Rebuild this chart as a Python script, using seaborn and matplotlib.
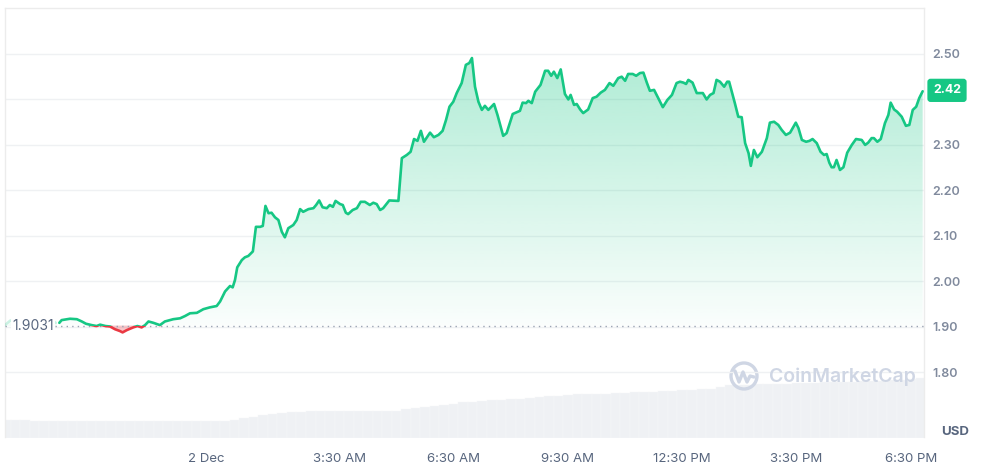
import numpy as np
import pandas as pd
import matplotlib
matplotlib.use('Agg')
import matplotlib.pyplot as plt
import seaborn as sns
from matplotlib.patches import Rectangle, Circle
from matplotlib.path import Path
from matplotlib.lines import Line2D
from matplotlib.transforms import blended_transform_factory, IdentityTransform
from matplotlib.colors import to_rgb

# hours relative to 2 Dec 00:00
hours = [-3.85, -3.79, -3.57, -3.39, -3.26, -3.15, -3.00, -2.87, -2.78, -2.64,
         -2.52, -2.39, -2.26, -2.19, -2.08, -1.91, -1.80, -1.69, -1.60, -1.51,
         -1.38, -1.21, -1.08, -0.86, -0.68, -0.55, -0.42, -0.24, -0.07, 0.10,
         0.28, 0.37,
         0.50, 0.63, 0.70, 0.76, 0.82, 0.94, 1.02, 1.11, 1.23, 1.31,
         1.42, 1.49, 1.56, 1.64, 1.72, 1.81, 1.90, 1.99, 2.07, 2.16,
         2.29, 2.38, 2.47, 2.55, 2.69, 2.82, 2.89, 2.97, 3.06, 3.17,
         3.25, 3.33, 3.40, 3.52, 3.59, 3.67, 3.73, 3.85, 3.96, 4.06,
         4.17, 4.30,
         4.39, 4.48, 4.57, 4.65, 4.81, 5.05, 5.14, 5.27, 5.37, 5.46,
         5.55, 5.64, 5.72, 5.88, 5.98, 6.10, 6.21, 6.30, 6.39, 6.49,
         6.58, 6.71, 6.82, 6.91, 6.98, 7.06, 7.15, 7.24, 7.32, 7.41,
         7.56, 7.65, 7.80, 7.89, 8.05, 8.16, 8.24,
         8.31, 8.40, 8.46, 8.55, 8.64, 8.78, 8.90, 8.98, 9.06, 9.13,
         9.22, 9.31, 9.42, 9.51, 9.57, 9.66, 9.73, 9.82, 9.90, 10.03,
         10.15, 10.25, 10.36, 10.47, 10.59, 10.69, 10.82, 10.91, 11.00, 11.08,
         11.20, 11.29, 11.39, 11.48, 11.57, 11.65, 11.76, 11.87, 11.99, 12.11,
         12.23, 12.35, 12.44,
         12.53, 12.60, 12.66, 12.77, 12.88, 13.04, 13.14, 13.23, 13.32, 13.40,
         13.49, 13.60, 13.68, 13.73, 13.88, 13.97, 14.06, 14.15, 14.24, 14.30,
         14.38, 14.47, 14.59, 14.72, 14.80, 14.91, 15.02, 15.11, 15.22, 15.33,
         15.48, 15.55, 15.64, 15.75, 15.84, 15.92, 16.03, 16.13, 16.22, 16.29,
         16.36,
         16.42, 16.48, 16.55, 16.64, 16.73, 16.83, 16.95, 17.06, 17.21, 17.30,
         17.38, 17.47, 17.53, 17.62, 17.71, 17.82, 17.91, 17.97, 18.06, 18.14,
         18.26, 18.37, 18.46, 18.55, 18.64, 18.72, 18.81]

price = [1.909, 1.915, 1.918, 1.917, 1.912, 1.907, 1.904, 1.902, 1.905, 1.902,
         1.901, 1.895, 1.891, 1.888, 1.893, 1.899, 1.902, 1.899, 1.904, 1.912,
         1.909, 1.904, 1.912, 1.917, 1.919, 1.924, 1.930, 1.931, 1.939, 1.943,
         1.946, 1.956,
         1.978, 1.990, 1.987, 2.003, 2.031, 2.047, 2.053, 2.056, 2.066, 2.120,
         2.120, 2.122, 2.166, 2.150, 2.151, 2.141, 2.135, 2.109, 2.097, 2.117,
         2.124, 2.135, 2.159, 2.153, 2.159, 2.161, 2.168, 2.178, 2.163, 2.161,
         2.168, 2.164, 2.177, 2.170, 2.168, 2.151, 2.148, 2.157, 2.161, 2.175,
         2.175, 2.168,
         2.173, 2.170, 2.157, 2.161, 2.178, 2.177, 2.271, 2.278, 2.285, 2.313,
         2.309, 2.331, 2.307, 2.327, 2.317, 2.322, 2.331, 2.355, 2.384, 2.395,
         2.414, 2.436, 2.476, 2.480, 2.491, 2.428, 2.395, 2.377, 2.386, 2.377,
         2.390, 2.366, 2.320, 2.326, 2.368, 2.372, 2.375,
         2.393, 2.392, 2.397, 2.392, 2.417, 2.432, 2.463, 2.463, 2.452, 2.461,
         2.447, 2.466, 2.412, 2.400, 2.410, 2.388, 2.390, 2.378, 2.370, 2.378,
         2.403, 2.406, 2.415, 2.421, 2.436, 2.430, 2.447, 2.450, 2.441, 2.456,
         2.456, 2.452, 2.458, 2.459, 2.437, 2.419, 2.421, 2.403, 2.383, 2.399,
         2.410, 2.436, 2.439,
         2.437, 2.434, 2.443, 2.437, 2.414, 2.414, 2.400, 2.410, 2.414, 2.443,
         2.439, 2.428, 2.439, 2.439, 2.392, 2.362, 2.361, 2.304, 2.282, 2.254,
         2.289, 2.273, 2.285, 2.315, 2.349, 2.351, 2.344, 2.333, 2.322, 2.327,
         2.349, 2.337, 2.311, 2.307, 2.309, 2.313, 2.304, 2.285, 2.278, 2.280,
         2.261,
         2.251, 2.251, 2.267, 2.245, 2.251, 2.283, 2.300, 2.313, 2.311, 2.300,
         2.305, 2.315, 2.315, 2.307, 2.313, 2.348, 2.366, 2.393, 2.378, 2.373,
         2.362, 2.342, 2.344, 2.377, 2.384, 2.403, 2.418]

# faded stretch before the 24h window
prev_hours = [-5.28, -5.14, -4.88, -4.75, -4.54, -4.23, -4.02, -3.94]
prev_price = [1.904, 1.914, 1.917, 1.914, 1.912, 1.912, 1.914, 1.909]

base_price = 1.9031
last_price = 2.42

# volume, 15 min steps from -5.25 h
vol_start = -5.25
volume = [180, 180, 180,
          165, 165, 165, 165, 165, 165, 165, 165, 165, 165, 165,
          165, 165, 165, 165, 165, 165, 165, 165, 165, 165,
          178, 195, 210, 228, 238, 248, 255, 260, 265,
          265, 265, 265, 265, 265, 265, 265, 265, 265,
          285, 298, 308, 315, 325, 338, 352, 360, 368, 375,
          378, 384, 388, 398, 405, 412, 418, 425, 431, 434,
          437, 440, 444, 448, 452, 457, 460, 464, 468, 472,
          476, 482, 490, 505, 522, 527, 530, 533, 535, 537,
          540, 543, 546, 548, 551, 554, 557, 559, 562, 565,
          568, 574, 580, 586, 592]

y_ticks = [1.80, 1.90, 2.00, 2.10, 2.20, 2.30, 2.40, 2.50]
y_labels = ['1.80', '1.90', '2.00', '2.10', '2.20', '2.30', '', '2.50']
x_ticks = [0, 3.5, 6.5, 9.5, 12.5, 15.5, 18.5]
x_labels = ['2 Dec', '3:30 AM', '6:30 AM', '9:30 AM', '12:30 PM', '3:30 PM', '6:30 PM']

GREEN = '#16c784'
RED = '#ea3943'
GREY_TXT = '#58667e'
GRID = '#eff1f3'

sns.set_style("white")
plt.rcParams['font.family'] = ['Inter', 'DejaVu Sans']

df = pd.DataFrame({'hour': hours, 'price': price})
hrs = np.array(hours)
prc = np.array(price)
vol_hours = vol_start + 0.25 * np.arange(len(volume))

fig = plt.figure(figsize=(9.81, 4.65), dpi=100)
ax = fig.add_axes([5 / 981, 27.5 / 465, 919 / 981, 429.5 / 465])
axv = ax.twinx()
ax.set_zorder(axv.get_zorder() + 1)
ax.patch.set_visible(False)

# volume bars in the back
axv.bar(vol_hours, volume, width=0.25, color='#eff1f4', edgecolor='#f6f7f9', linewidth=0.3)
axv.set_ylim(0, 4300)
axv.set_yticks([])
for s in axv.spines.values():
    s.set_visible(False)

# gradient fill above the open price
pos = ax.fill_between(hrs, prc, base_price, where=prc >= base_price, interpolate=True,
                      facecolor='none', edgecolor='none')
clip = Path.make_compound_path(*pos.get_paths())
grad = np.zeros((256, 1, 4))
grad[..., :3] = to_rgb(GREEN)
grad[:, 0, 3] = np.linspace(0.02, 0.34, 256)
im = ax.imshow(grad, extent=[hrs[0], hrs[-1], base_price, prc.max()], origin='lower',
               aspect='auto', interpolation='bilinear', zorder=2)
im.set_clip_path(clip, transform=ax.transData)

# red fill below the open price
ax.fill_between(hrs, prc, base_price, where=prc < base_price, interpolate=True,
                color=RED, alpha=0.28, lw=0, zorder=2)

# faded previous stretch
ax.plot(prev_hours, prev_price, color=GREEN, alpha=0.22, lw=1.8, zorder=3)
ax.fill_between(prev_hours, prev_price, base_price, color=GREEN, alpha=0.05, lw=0)

# price line, green above / red below the open
sns.lineplot(data=df, x='hour', y='price', color=GREEN, lw=1.9, estimator=None,
             ax=ax, zorder=4)
green_line = ax.lines[-1]
sns.lineplot(data=df, x='hour', y='price', color=RED, lw=1.9, estimator=None,
             ax=ax, zorder=4)
red_line = ax.lines[-1]
green_line.set_clip_path(Rectangle((-10, base_price), 40, 5, transform=ax.transData))
red_line.set_clip_path(Rectangle((-10, base_price - 5), 40, 5, transform=ax.transData))

ax.axhline(base_price, color='#9aa3b3', lw=1, ls=(0, (1, 3)), zorder=3)
ax.text(0.0075, base_price, '1.9031', transform=blended_transform_factory(ax.transAxes, ax.transData),
        ha='left', va='center', fontsize=10, color=GREY_TXT, zorder=5,
        bbox=dict(facecolor='white', edgecolor='none', pad=1.0))

ax.set_xlim(-5.276, 18.845)
ax.set_ylim(1.657, 2.601)
axv.set_xlim(-5.276, 18.845)

ax.set_axisbelow(True)
ax.grid(axis='y', color=GRID, lw=1)
ax.grid(axis='x', visible=False)
ax.yaxis.tick_right()
ax.set_yticks(y_ticks)
ax.set_yticklabels(y_labels)
ax.set_xticks(x_ticks)
ax.set_xticklabels(x_labels)
ax.tick_params(axis='y', length=0, pad=6, labelsize=9, labelcolor='#808a9d')
ax.tick_params(axis='x', length=0, pad=11, labelsize=9.5, labelcolor=GREY_TXT)
for lbl in ax.get_yticklabels():
    lbl.set_fontweight('semibold')
ax.set_xlabel('')
ax.set_ylabel('')
for name, s in ax.spines.items():
    s.set_color('#ececec')
    s.set_linewidth(1)
ax.spines['bottom'].set_visible(False)

# current price tag
ax.annotate(f'{last_price:.2f}', xy=(1, last_price),
            xycoords=blended_transform_factory(ax.transAxes, ax.transData),
            xytext=(9, 0), textcoords='offset pixels', ha='left', va='center',
            color='white', fontsize=9, fontweight='bold', annotation_clip=False,
            bbox=dict(boxstyle='round,pad=0.45,rounding_size=0.25', fc=GREEN, ec='none'))

fig.text(955 / 981, 1 - 432 / 465, 'USD', ha='center', va='center', fontsize=9.5,
         fontweight='bold', color=GREY_TXT)

# watermark
wm = '#cfd6e4'
fig.add_artist(Circle((744, 465 - 376), 13, transform=IdentityTransform(), fill=False,
                      ec=wm, lw=2.4))
fig.add_artist(Line2D([735, 739, 743, 747, 750, 754],
                      [465 - 371, 465 - 382, 465 - 372, 465 - 382, 465 - 376, 465 - 377],
                      transform=IdentityTransform(), color=wm, lw=2.4,
                      solid_capstyle='round', solid_joinstyle='round'))
fig.text(769 / 981, 1 - 377 / 465, 'CoinMarketCap', ha='left', va='center', fontsize=14,
         fontweight='semibold', color=wm)

fig.savefig('out.png', dpi=100)
